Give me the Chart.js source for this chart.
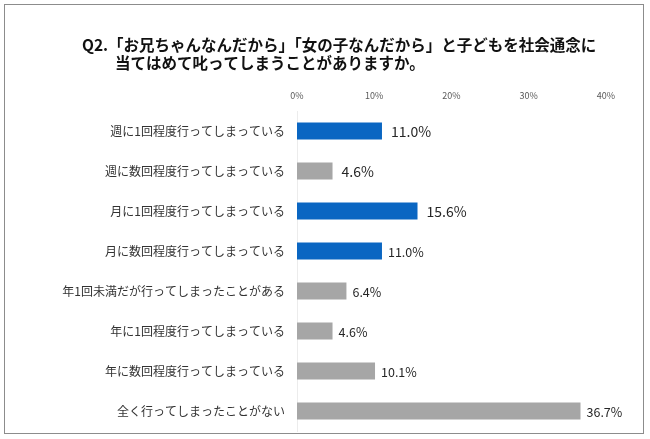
<!DOCTYPE html>
<html>
<head>
<meta charset="utf-8">
<script src="https://cdn.jsdelivr.net/npm/chart.js@4.4.1/dist/chart.umd.min.js"></script>
<style>
    html, body { margin: 0; padding: 0; background: #fff; }
    #wrap { position: relative; width: 650px; height: 439px; }
    #frame {
        position: absolute; left: 4px; top: 4px; width: 638px; height: 428px;
        border: 1px solid #8c8c8c; pointer-events: none;
    }
</style>
</head>
<body>
<div id="wrap">
    <canvas id="q2Chart" width="650" height="439"></canvas>
    <div id="frame"></div>
</div>
<script>
// 設問と回答データ
const titleLines = [
    'Q2.「お兄ちゃんなんだから」「女の子なんだから」と子どもを社会通念に',
    '当てはめて叱ってしまうことがありますか。'
];
const categories = [
    '週に1回程度行ってしまっている',
    '週に数回程度行ってしまっている',
    '月に1回程度行ってしまっている',
    '月に数回程度行ってしまっている',
    '年1回未満だが行ってしまったことがある',
    '年に1回程度行ってしまっている',
    '年に数回程度行ってしまっている',
    '全く行ってしまったことがない'
];
const percentValues = [11.0, 4.6, 15.6, 11.0, 6.4, 4.6, 10.1, 36.7];
const highlighted = [true, false, true, true, false, false, false, false];
const axisTicks = [0, 10, 20, 30, 40];

const BLUE = '#0a66c2';
const GRAY = '#a6a6a6';
const FONT = "'Noto Sans CJK JP', 'Noto Sans', sans-serif";

// タイトル描画
const titlePlugin = {
    id: 'q2Title',
    afterDraw(chart) {
        const ctx = chart.ctx;
        ctx.save();
        ctx.fillStyle = '#111';
        ctx.font = 'bold 15.5px ' + FONT;
        ctx.textBaseline = 'middle';
        ctx.textAlign = 'left';
        ctx.fillText(titleLines[0], 82, 45);
        ctx.fillText(titleLines[1], 115, 63);
        ctx.restore();
    }
};

// 棒の右側に数値ラベル
const valueLabelPlugin = {
    id: 'valueLabels',
    afterDatasetsDraw(chart) {
        const ctx = chart.ctx;
        const meta = chart.getDatasetMeta(0);
        ctx.save();
        ctx.fillStyle = '#262626';
        ctx.textBaseline = 'middle';
        ctx.textAlign = 'left';
        meta.data.forEach((bar, i) => {
            const big = i < 3;
            ctx.font = (big ? '14px ' : '12.5px ') + FONT;
            ctx.fillText(percentValues[i].toFixed(1) + '%', bar.x + (big ? 9 : 6), bar.y + 1);
        });
        ctx.restore();
    }
};

const ctx = document.getElementById('q2Chart').getContext('2d');
new Chart(ctx, {
    type: 'bar',
    data: {
        labels: categories,
        datasets: [{
            data: percentValues,
            backgroundColor: highlighted.map(h => h ? BLUE : GRAY),
            borderWidth: 0,
            barPercentage: 0.43,
            categoryPercentage: 1.0
        }]
    },
    options: {
        indexAxis: 'y',
        responsive: false,
        animation: false,
        layout: {
            padding: { top: 84, right: 44, bottom: 8, left: 0 }
        },
        plugins: {
            legend: { display: false },
            tooltip: { enabled: false }
        },
        scales: {
            x: {
                position: 'top',
                min: axisTicks[0],
                max: axisTicks[axisTicks.length - 1],
                afterBuildTicks(scale) {
                    scale.ticks = axisTicks.map(v => ({ value: v }));
                },
                afterFit(scale) {
                    scale.height = 27;
                },
                grid: { display: false, drawTicks: false },
                border: { display: false },
                ticks: {
                    padding: 10,
                    color: '#595959',
                    font: { size: 9, family: FONT },
                    callback: v => v + '%'
                }
            },
            y: {
                afterFit(scale) {
                    scale.width = 297;
                    // ラベル余白でプロット領域が縮まないように
                    scale.paddingTop = 0;
                    scale.paddingBottom = 0;
                },
                grid: { display: false, drawTicks: false },
                border: { display: true, color: '#ececec', width: 1 },
                ticks: {
                    padding: 12,
                    color: '#333',
                    font: { size: 12, family: FONT }
                }
            }
        }
    },
    plugins: [titlePlugin, valueLabelPlugin]
});
</script>
</body>
</html>
